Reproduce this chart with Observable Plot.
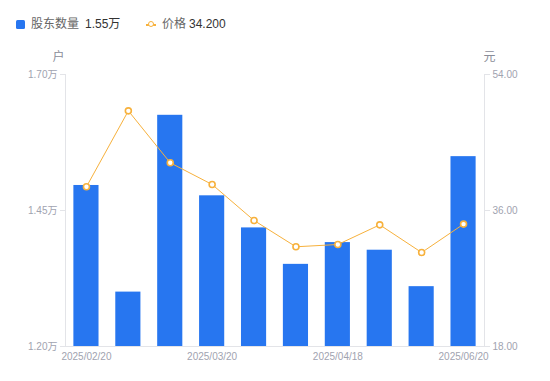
<!DOCTYPE html>
<html><head><meta charset="utf-8">
<script src="https://cdn.jsdelivr.net/npm/d3@7"></script>
<script src="https://cdn.jsdelivr.net/npm/@observablehq/plot@0.6"></script>
<style>
body{margin:0;background:#fff;font-family:"Liberation Sans",Arial,"Noto Sans CJK SC",sans-serif;}
#legend{position:relative;height:40px;width:550px;font-size:12px;}
#legend span{position:absolute;line-height:14px;top:17px;white-space:nowrap;}
#legend .sq{left:16px;top:20px;width:9px;height:9px;border-radius:1.5px;background:#2776f0;}
#legend .ln{left:146px;top:24px;width:10px;height:1.5px;background:#f7b13c;}
#legend .cc{left:148px;top:21px;width:4px;height:4px;border:1.5px solid #f7b13c;border-radius:50%;background:#fff;}
#legend .lab{color:#666;}
#legend .val{color:#333;}
#chart svg{display:block;}
</style></head><body>
<div id="legend"></div>
<div id="chart"></div>
<script>
const dates = ["2025/02/20","2025/02/28","2025/03/10","2025/03/20","2025/03/31","2025/04/10","2025/04/18","2025/04/30","2025/05/20","2025/06/20"];
const holders = [1.496, 1.300, 1.625, 1.477, 1.418, 1.351, 1.391, 1.377, 1.310, 1.549]; // 万户
const prices = [39.14, 49.19, 42.31, 39.44, 34.68, 31.20, 31.50, 34.10, 30.44, 34.20]; // 元
const xTickLabels = ["2025/02/20","2025/03/20","2025/04/18","2025/06/20"];
const yTicks = [1.20, 1.45, 1.70];
const priceTicks = [18, 36, 54];
const seriesNames = ["股东数量", "价格"];
const units = ["户", "元"];

const BLUE = "#2776f0", ORANGE = "#f7b13c", AXIS = "#e3e4e8", TICK_TXT = "#9fa3b0";

const data = dates.map((d, i) => ({date: d, holders: holders[i], price: prices[i]}));
const toY = p => yTicks[0] + (p - priceTicks[0]) / (priceTicks[2] - priceTicks[0]) * (yTicks[2] - yTicks[0]);
const fromY = y => priceTicks[0] + (y - yTicks[0]) / (yTicks[2] - yTicks[0]) * (priceTicks[2] - priceTicks[0]);

// legend
const lg = document.getElementById("legend");
lg.innerHTML = `<span class="sq"></span><span class="lab" style="left:31px">${seriesNames[0]}</span>` +
  `<span class="val" style="left:85px">${holders[holders.length-1].toFixed(2)}万</span>` +
  `<span class="ln"></span><span class="cc"></span>` +
  `<span class="lab" style="left:162px">${seriesNames[1]}</span>` +
  `<span class="val" style="left:189px">${prices[prices.length-1].toFixed(3)}</span>`;

const chart = Plot.plot({
  width: 550,
  height: 341,
  marginTop: 34,
  marginBottom: 35,
  marginLeft: 65,
  marginRight: 66,
  style: {fontFamily: '"Liberation Sans", Arial, "Noto Sans CJK SC", sans-serif', fontSize: "10px", background: "#fff"},
  x: {type: "band", domain: dates, paddingInner: 0.4, paddingOuter: 0.2, round: false},
  y: {domain: [yTicks[0], yTicks[2]]},
  marks: [
    Plot.frame({anchor: "left", stroke: AXIS}),
    Plot.frame({anchor: "right", stroke: AXIS}),
    Plot.frame({anchor: "bottom", stroke: AXIS}),
    Plot.barY(data, {x: "date", y1: () => yTicks[0], y2: "holders", fill: BLUE}),
    Plot.lineY(data, {x: "date", y: d => toY(d.price), stroke: ORANGE, strokeWidth: 1}),
    Plot.dot(data, {x: "date", y: d => toY(d.price), r: 3, fill: "#fff", stroke: ORANGE, strokeWidth: 1.6}),
    Plot.axisY({anchor: "left", ticks: yTicks, tickFormat: d => d.toFixed(2) + "万", tickSize: 5, tickPadding: 3, stroke: AXIS, fill: TICK_TXT, label: null}),
    Plot.axisY({anchor: "right", ticks: yTicks, tickFormat: d => fromY(d).toFixed(2), tickSize: 5, tickPadding: 3, stroke: AXIS, fill: TICK_TXT, label: null}),
    Plot.axisX({anchor: "bottom", ticks: xTickLabels, tickSize: 0, tickPadding: 6, fill: TICK_TXT, label: null}),
    Plot.text([units[0]], {frameAnchor: "top-left", dx: -7, dy: -17, textAnchor: "middle", lineAnchor: "middle", fontSize: 12, fill: "#8a8d99"}),
    Plot.text([units[1]], {frameAnchor: "top-right", dx: 5, dy: -17, textAnchor: "middle", lineAnchor: "middle", fontSize: 12, fill: "#8a8d99"})
  ]
});
document.getElementById("chart").appendChild(chart);
</script>
</body></html>
